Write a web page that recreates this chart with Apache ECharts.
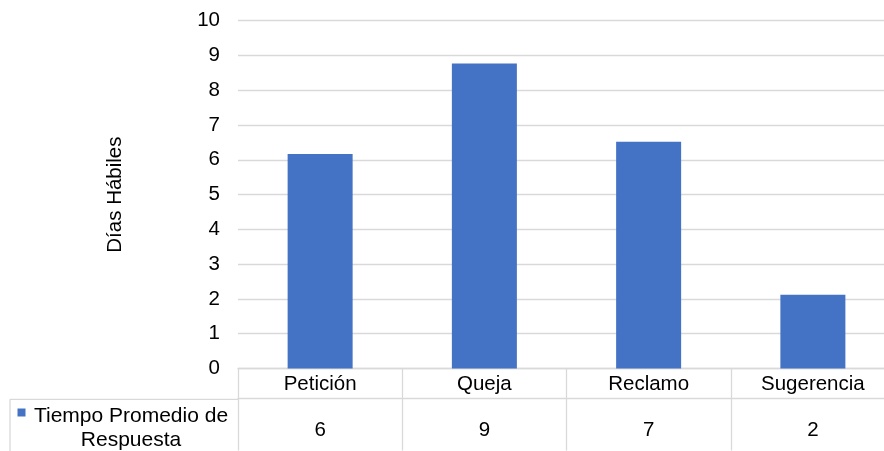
<!DOCTYPE html>
<html>
<head>
<meta charset="utf-8">
<script src="https://cdn.jsdelivr.net/npm/echarts@6/dist/echarts.min.js"></script>
<style>
  html, body { margin: 0; padding: 0; background: #fff; overflow: hidden; }
  #wrap { width: 884px; height: 451px; overflow: hidden; }
  #chart { width: 900px; height: 451px; }
</style>
</head>
<body>
<div id="wrap"><div id="chart"></div></div>
<script>
// Average response time (working days) per request type
const categories = ['Petición', 'Queja', 'Reclamo', 'Sugerencia'];
const responseDays = [6.17, 8.77, 6.52, 2.12];
const seriesName = 'Tiempo Promedio de Respuesta';
const yTicks = [0, 1, 2, 3, 4, 5, 6, 7, 8, 9, 10];

const FONT = 'Liberation Sans, Arial, sans-serif';
const GRID_COLOR = '#d9d9d9';
const BAR_COLOR = '#4472C4';
const TEXT_COLOR = '#000';

const chart = echarts.init(document.getElementById('chart'), null, { renderer: 'canvas' });

chart.setOption({
  animation: false,
  // the plot runs slightly past the visible right edge
  grid: { left: 238, top: 20.7, right: 5, bottom: 82.5, containLabel: false },
  xAxis: [
    {
      // header row of the data table: category names
      type: 'category',
      data: categories,
      position: 'bottom',
      axisLine: { show: true, lineStyle: { color: GRID_COLOR, width: 1.3 } },
      axisTick: { show: true, length: 82, interval: 0, lineStyle: { color: GRID_COLOR, width: 1.3 } },
      axisLabel: { color: TEXT_COLOR, fontSize: 20.5, fontFamily: FONT, margin: 5, interval: 0 }
    },
    {
      // value row of the data table: rounded series values
      type: 'category',
      data: categories,
      position: 'bottom',
      offset: 30,
      axisLine: { show: true, lineStyle: { color: GRID_COLOR, width: 1.3 } },
      axisTick: { show: false },
      axisLabel: {
        color: TEXT_COLOR, fontSize: 20.5, fontFamily: FONT, margin: 21, interval: 0,
        formatter: (v, i) => String(Math.round(responseDays[i]))
      }
    }
  ],
  yAxis: {
    type: 'value',
    min: yTicks[0],
    max: yTicks[yTicks.length - 1],
    interval: 1,
    name: 'Días Hábiles',
    nameLocation: 'middle',
    nameRotate: 90,
    nameGap: 112,
    nameTextStyle: { color: TEXT_COLOR, fontSize: 20.5, fontFamily: FONT },
    axisLine: { show: false },
    axisTick: { show: false },
    axisLabel: { color: TEXT_COLOR, fontSize: 20.5, fontFamily: FONT, margin: 18 },
    splitLine: { show: true, lineStyle: { color: GRID_COLOR, width: 1.3 } }
  },
  series: [
    {
      name: seriesName,
      type: 'bar',
      data: responseDays,
      barWidth: 65,
      xAxisIndex: 0,
      itemStyle: { color: BAR_COLOR }
    }
  ],
  graphic: [
    // legend cell of the data table
    { type: 'line', shape: { x1: 10, y1: 399.3, x2: 238, y2: 399.3 }, style: { stroke: GRID_COLOR, lineWidth: 1.3 } },
    { type: 'line', shape: { x1: 10, y1: 399.3, x2: 10, y2: 451 }, style: { stroke: GRID_COLOR, lineWidth: 1.3 } },
    { type: 'rect', shape: { x: 17.5, y: 408.5, width: 8, height: 8 }, style: { fill: BAR_COLOR } },
    {
      type: 'text',
      x: 131, y: 404,
      style: {
        text: seriesName.replace('de ', 'de\n'),
        fill: TEXT_COLOR,
        font: '21px ' + FONT,
        align: 'center',
        verticalAlign: 'top',
        lineHeight: 24
      }
    }
  ]
});
</script>
</body>
</html>
